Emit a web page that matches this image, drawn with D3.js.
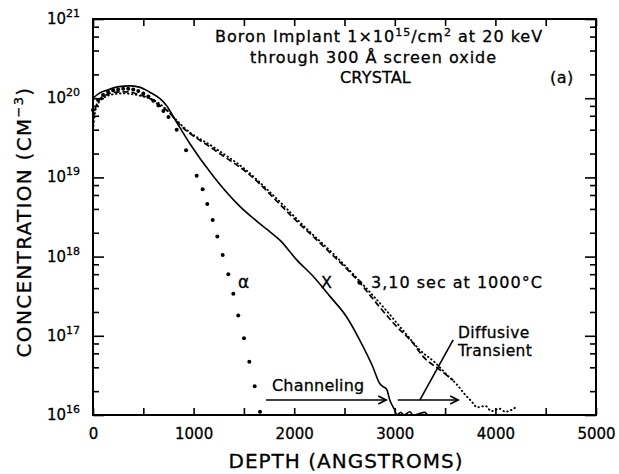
<!DOCTYPE html>
<html>
<head>
<meta charset="utf-8">
<script src="https://cdn.jsdelivr.net/npm/d3@7"></script>
<style>
  html, body { margin: 0; padding: 0; background: #fff; overflow: hidden; }
  svg { display: block; }
  svg text { font-family: "DejaVu Sans", sans-serif; fill: #000; stroke: #000; stroke-width: 0.3px; }
</style>
</head>
<body>
<div id="chart"></div>
<script>
// alpha: calculated profile, drawn as dots
const depthAlpha = [0, 50, 100, 150, 200, 250, 300, 350, 400, 450, 500, 550, 600, 650, 700, 750,
  832, 925, 1031, 1090, 1136, 1190, 1236, 1289, 1345, 1395, 1444, 1501, 1554, 1607, 1660];
const concAlpha = [7.1e19, 9.5e19, 1.1e20, 1.2e20, 1.26e20, 1.29e20, 1.32e20, 1.32e20, 1.29e20, 1.23e20,
  1.15e20, 1.05e20, 9.3e19, 8.1e19, 6.9e19, 5.8e19,
  4.0e19, 2.2e19, 1.05e19, 7.1e18, 4.6e18, 2.9e18, 1.8e18, 1.05e18, 6.0e17, 3.4e17, 1.8e17,
  9.3e16, 4.7e16, 2.3e16, 1.1e16];

// X: as-implanted crystal profile (solid)
const depthX = [0, 60, 160, 260, 360, 460, 560, 660, 730, 830, 960, 1200, 1460, 1730, 1860, 2025,
  2190, 2360, 2520, 2650, 2780, 2850, 2880, 2920, 2950, 3000, 3020, 3060, 3090, 3150, 3180, 3300, 3330, 3400];
const concX = [1.0e20, 1.15e20, 1.29e20, 1.4e20, 1.43e20, 1.38e20, 1.2e20, 1.0e20, 8.1e19, 5.0e19,
  2.7e19, 1.02e19, 4.3e18, 2.2e18, 1.6e18, 9.1e17, 5.6e17, 3.1e17, 1.74e17, 8.9e16, 4.1e16,
  2.5e16, 2.3e16, 2.1e16, 1.55e16, 1.15e16, 1.0e16, 1.08e16, 1.0e16, 1.1e16, 1.0e16, 1.08e16, 1.0e16, 1.0e16];

// 3 sec at 1000 C (dashed)
const depth3s = [0, 30, 60, 130, 260, 360, 460, 560, 660, 730, 865, 1190, 1530, 2025, 2290, 2650,
  2850, 3020, 3180, 3280, 3450, 3580];
const conc3s = [5.6e19, 7.9e19, 9.5e19, 1.1e20, 1.2e20, 1.2e20, 1.1e20, 1.0e20, 8.1e19, 7.1e19,
  4.6e19, 2.3e19, 1.15e19, 2.8e18, 1.35e18, 4.7e17, 2.3e17, 1.3e17, 8.1e16, 5.5e16, 3.7e16, 2.75e16];

// 10 sec at 1000 C (dotted)
const depth10s = [0, 20, 50, 100, 200, 300, 400, 500, 600, 700, 800, 900, 1200, 1500, 1800, 2100,
  2400, 2700, 2900, 3100, 3250, 3400, 3530, 3620, 3700, 3760, 3820, 3900, 3960, 4040, 4100, 4220];
const conc10s = [4.0e19, 6.5e19, 8.5e19, 1.0e20, 1.12e20, 1.15e20, 1.12e20, 1.05e20, 9.5e19, 7.8e19,
  5.8e19, 4.3e19, 2.4e19, 1.3e19, 5.8e18, 2.4e18, 1.05e18, 4.2e17, 2.2e17, 1.1e17, 6.6e16, 4.6e16,
  3.1e16, 2.4e16, 1.8e16, 1.5e16, 1.25e16, 1.3e16, 1.12e16, 1.2e16, 1.1e16, 1.3e16];

const xTickValues = [0, 500, 1000, 1500, 2000, 2500, 3000, 3500, 4000, 4500, 5000];
const yDecades = [1e16, 1e17, 1e18, 1e19, 1e20, 1e21];
const yExponents = ["16", "17", "18", "19", "20", "21"];
const yMinor = [2e16, 4e16, 6e16, 8e16, 2e17, 4e17, 6e17, 8e17, 2e18, 4e18, 6e18, 8e18,
  2e19, 4e19, 6e19, 8e19, 2e20, 4e20, 6e20, 8e20];

const width = 619, height = 474;
const margin = { top: 19, right: 23, bottom: 59, left: 93 };
const innerWidth = width - margin.left - margin.right;
const innerHeight = height - margin.top - margin.bottom;

const svg = d3.select("#chart").append("svg")
  .attr("width", width).attr("height", height);
const g = svg.append("g").attr("transform", `translate(${margin.left},${margin.top})`);

const x = d3.scaleLinear().domain([0, 5000]).range([0, innerWidth]);
const y = d3.scaleLog().domain([1e16, 1e21]).range([innerHeight, 0]);

// axes (ticks point inward), empty labels dropped
const styleAxis = sel => {
  sel.select(".domain").remove();
  sel.selectAll(".tick line").attr("stroke", "#000").attr("stroke-width", 1.6);
  sel.selectAll(".tick text").filter(function () { return this.textContent === ""; }).remove();
};

g.append("g").attr("transform", `translate(0,${innerHeight})`)
  .call(d3.axisBottom(x).tickValues(xTickValues).tickSize(-7).tickPadding(13)
    .tickFormat(d => d % 1000 === 0 ? d : ""))
  .call(styleAxis)
  .selectAll("text").style("font-size", "15px").style("font-family", "DejaVu Sans, sans-serif");

g.append("g")
  .call(d3.axisTop(x).tickValues(xTickValues).tickSize(-7).tickFormat(""))
  .call(styleAxis);

g.append("g").call(d3.axisLeft(y).tickValues(yDecades).tickSize(-11).tickFormat("")).call(styleAxis);
g.append("g").call(d3.axisLeft(y).tickValues(yMinor).tickSize(-6).tickFormat("")).call(styleAxis);
g.append("g").attr("transform", `translate(${innerWidth},0)`)
  .call(d3.axisRight(y).tickValues(yDecades).tickSize(-11).tickFormat("")).call(styleAxis);
g.append("g").attr("transform", `translate(${innerWidth},0)`)
  .call(d3.axisRight(y).tickValues(yMinor).tickSize(-6).tickFormat("")).call(styleAxis);

// y tick labels 10^n
yDecades.forEach((d, i) => {
  const t = g.append("text")
    .attr("x", -13).attr("y", y(d) + 5)
    .attr("text-anchor", "end")
    .style("font-size", "15px");
  t.append("tspan").text("10");
  t.append("tspan").attr("dy", -7).style("font-size", "11px").text(yExponents[i]);
});

// frame
g.append("rect")
  .attr("width", innerWidth).attr("height", innerHeight)
  .attr("fill", "none").attr("stroke", "#000").attr("stroke-width", 2);

// curves
const line = d3.line().x(d => x(d[0])).y(d => y(d[1])).curve(d3.curveMonotoneX);

g.append("path")
  .datum(d3.zip(depthX, concX))
  .attr("d", line).attr("fill", "none").attr("stroke", "#000").attr("stroke-width", 1.6);

g.append("path")
  .datum(d3.zip(depth3s, conc3s))
  .attr("d", line).attr("fill", "none").attr("stroke", "#000").attr("stroke-width", 1.7)
  .attr("stroke-dasharray", "6,3");

g.append("path")
  .datum(d3.zip(depth10s, conc10s))
  .attr("d", line).attr("fill", "none").attr("stroke", "#000").attr("stroke-width", 1.9)
  .attr("stroke-linecap", "round").attr("stroke-dasharray", "0.5,3.5");

g.selectAll(".alpha")
  .data(d3.zip(depthAlpha, concAlpha))
  .enter().append("circle")
  .attr("class", "alpha")
  .attr("cx", d => x(d[0])).attr("cy", d => y(d[1]))
  .attr("r", 2).attr("fill", "#000");

// annotations
const note = (tx, ty, s, size, ls) => g.append("text")
  .attr("x", tx - margin.left).attr("y", ty - margin.top)
  .style("font-size", (size || 16) + "px")
  .style("letter-spacing", (ls === undefined ? 0.6 : ls) + "px")
  .text(s);

const t1 = g.append("text").attr("x", 215 - margin.left).attr("y", 42 - margin.top)
  .style("font-size", "16px").style("letter-spacing", "1px");
t1.append("tspan").text("Boron Implant 1×10");
t1.append("tspan").attr("dy", -6).style("font-size", "11px").text("15");
t1.append("tspan").attr("dy", 6).text("/cm");
t1.append("tspan").attr("dy", -6).style("font-size", "11px").text("2");
t1.append("tspan").attr("dy", 6).text(" at 20 keV");
note(250, 63, "through 300 Å screen oxide", 16, 1);
note(340, 83, "CRYSTAL", 16, 0.2);
note(550, 83, "(a)", 16, 0.5);
note(238, 288, "α", 17, 0);
note(321, 288, "X", 16, 0);
note(371, 288, "3,10 sec at 1000°C", 16, 1);
note(458, 338, "Diffusive", 15.5, 0.4);
note(458, 356, "Transient", 15.5, 0.4);
note(272, 391, "Channeling", 16, 0.2);

// leader dot for the annealed curves
g.append("circle").attr("cx", x(2650)).attr("cy", y(4.7e17)).attr("r", 2.2).attr("fill", "#000");

// arrows
const arrowY = 1.55e16;
const arrow = (x0, x1) => {
  g.append("line").attr("x1", x(x0)).attr("x2", x(x1)).attr("y1", y(arrowY)).attr("y2", y(arrowY))
    .attr("stroke", "#000").attr("stroke-width", 1.6);
  g.append("path")
    .attr("d", `M${x(x1) - 8},${y(arrowY) - 4}L${x(x1)},${y(arrowY)}L${x(x1) - 8},${y(arrowY) + 4}`)
    .attr("fill", "none").attr("stroke", "#000").attr("stroke-width", 1.6);
};
arrow(1720, 2915);
arrow(3030, 3630);
g.append("line")
  .attr("x1", x(3250)).attr("y1", y(arrowY))
  .attr("x2", x(3580)).attr("y2", y(8.9e16))
  .attr("stroke", "#000").attr("stroke-width", 1.6);

// axis titles
svg.append("text")
  .attr("x", 346).attr("y", 468)
  .attr("text-anchor", "middle")
  .style("font-size", "20px").style("letter-spacing", "1px")
  .text("DEPTH (ANGSTROMS)");

const yt = svg.append("text")
  .attr("transform", "translate(31,222) rotate(-90)")
  .attr("text-anchor", "middle")
  .style("font-size", "20px").style("letter-spacing", "1.3px");
yt.append("tspan").text("CONCENTRATION (CM");
yt.append("tspan").attr("dy", -8).style("font-size", "13px").text("−3");
yt.append("tspan").attr("dy", 8).text(")");
</script>
</body>
</html>
